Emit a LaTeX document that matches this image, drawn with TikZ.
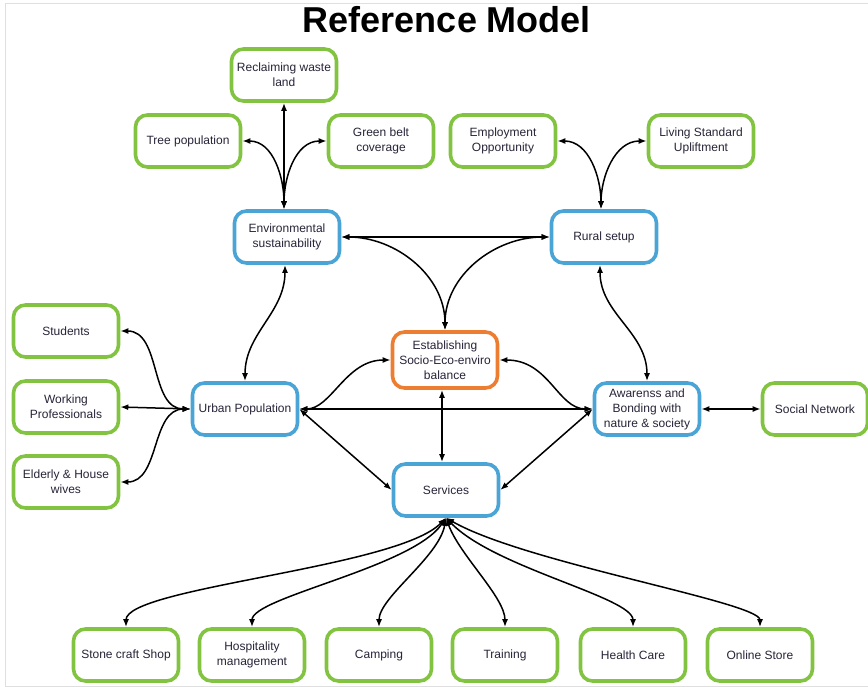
\documentclass[tikz,border=0pt]{standalone}
\usepackage{fontspec}
\setmainfont{Liberation Sans}
\usetikzlibrary{arrows.meta}
\definecolor{leafgreen}{RGB}{130,196,66}
\definecolor{skyblue}{RGB}{74,164,214}
\definecolor{hubOrange}{RGB}{237,125,49}
\definecolor{inkgray}{RGB}{40,36,56}
\begin{document}
\begin{tikzpicture}[x=1pt,y=-1pt,
  box/.style={draw, rounded corners=12pt, line width=3.6pt, fill=white,
    minimum width=105pt, minimum height=52pt, align=center, inner sep=2pt,
    text=inkgray, font=\fontsize{12}{15}\selectfont},
  leaf/.style={box, draw=leafgreen},
  core/.style={box, draw=skyblue},
  hub/.style={box, draw=hubOrange, minimum height=56pt},
  link/.style={line width=1.5pt, {Latex[length=8pt,width=6pt]}-{Latex[length=8pt,width=6pt]}},
]
\useasboundingbox (0,0) rectangle (868,687);
% faint frame
\draw[gray!25, line width=0.8pt] (5,686) -- (5,3) -- (880,3);
\draw[gray!25, line width=0.8pt] (5,686) -- (880,686);

% title
\node[font=\fontsize{36}{40}\selectfont\bfseries] (title) at (447,20) {Reference Model};

% upper tier
\node[leaf] (reclaim) at (284,75)  {Reclaiming waste\\land};
\node[leaf] (tree)    at (188,141) {Tree population};
\node[leaf] (green)   at (381,141) {Green belt\\coverage};
\node[leaf] (employ)  at (503,141) {Employment\\Opportunity};
\node[leaf] (living)  at (701,141) {Living Standard\\Upliftment};

\node[core] (env)   at (287,237) {Environmental\\sustainability};
\node[core] (rural) at (604,237) {Rural setup};
\coordinate (envtop) at ([xshift=-3pt]env.north);
\coordinate (ruraltop) at ([xshift=-3pt]rural.north);

% middle tier
\node[leaf] (students) at (66,331) {Students};
\node[leaf] (working)  at (66,407) {Working\\Professionals};
\node[leaf] (elderly)  at (66,482) {Elderly \& House\\wives};
\node[core] (urban)    at (245,409) {Urban Population};
\node[hub]  (estab)    at (445,360) {Establishing\\Socio-Eco-enviro\\balance};
\node[core] (aware)    at (647,409) {Awarenss and\\Bonding with\\nature \& society};
\node[leaf] (social)   at (815,409) {Social Network};
\node[core] (services) at (446,490) {Services};

% bottom tier
\node[leaf] (stone)   at (126,655) {Stone craft Shop};
\node[leaf] (hospit)  at (252,655) {Hospitality\\management};
\node[leaf] (camping) at (379,655) {Camping};
\node[leaf] (training)at (505,655) {Training};
\node[leaf] (health)  at (633,655) {Health Care};
\node[leaf] (online)  at (760,655) {Online Store};

% environmental branch
\draw[link] (envtop) -- (reclaim.south);
\draw[link] (envtop) to[out=90,in=0] (tree.east);
\draw[link] (envtop) to[out=90,in=180] (green.west);

% rural branch
\draw[link] (ruraltop) to[out=90,in=0] (employ.east);
\draw[link] (ruraltop) to[out=90,in=180] (living.west);

% links around the hub
\draw[link] (env.east) -- (rural.west);
\draw[link] (env.east) to[out=0,in=90] (estab.north);
\draw[link] (rural.west) to[out=180,in=90] (estab.north);
\draw[link] ([xshift=-2pt]env.south) to[out=-90,in=90] (urban.north);
\draw[link] ([xshift=-4pt]rural.south) to[out=-90,in=90] (aware.north);

% urban groups
\draw[link] (urban.west) to[out=180,in=0] (students.east);
\draw[link] (urban.west) -- (working.east);
\draw[link] (urban.west) to[out=180,in=0] (elderly.east);

\draw[link] (urban.east) to[out=0,in=180,out distance=32pt,in distance=45pt] (estab.west);
\draw[link] (urban.east) -- (aware.west);
\draw[link] (estab.east) to[out=0,in=180,out distance=50pt,in distance=35pt] (aware.west);
\draw[link] ([xshift=-3pt]estab.south) -- ([xshift=-4pt]services.north);
\draw[link] (urban.east) -- (services.west);
\draw[link] (aware.west) -- (services.east);
\draw[link] (aware.east) -- (social.west);

% services fan
\draw[link] (services.south) to[out=226,in=90,out distance=70pt,in distance=40pt] (stone.north);
\draw[link] (services.south) to[out=236,in=90,out distance=60pt,in distance=30pt] (hospit.north);
\draw[link] (services.south) to[out=260,in=90,out distance=40pt,in distance=30pt] (camping.north);
\draw[link] (services.south) to[out=290,in=90,out distance=40pt,in distance=30pt] (training.north);
\draw[link] (services.south) to[out=314,in=90,out distance=70pt,in distance=30pt] (health.north);
\draw[link] (services.south) to[out=330,in=90,out distance=90pt,in distance=25pt] (online.north);
\end{tikzpicture}
\end{document}
